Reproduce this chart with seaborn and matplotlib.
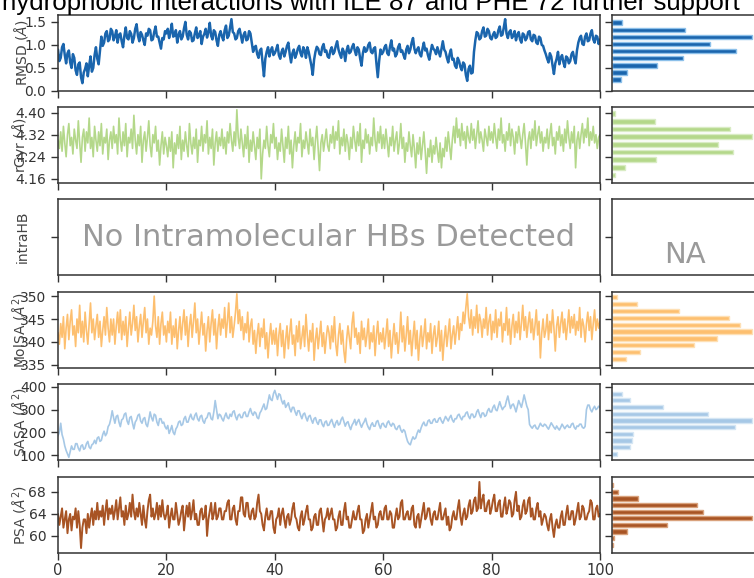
import numpy as np
import matplotlib
matplotlib.use("Agg")
import matplotlib.pyplot as plt
import seaborn as sns

# Ligand properties sampled every 0.25 ns over a 100 ns trajectory

# Ligand RMSD (Å)
rmsd = [
    0.90, 0.65, 0.72, 0.95, 1.02, 0.78, 0.60, 0.82, 0.88, 0.62, 0.50, 0.80, 0.72, 0.45, 0.35, 0.58, 0.62, 0.30, 0.17, 0.40,
    0.48, 0.60, 0.32, 0.55, 0.75, 0.42, 0.50, 0.78, 0.95, 0.70, 0.58, 0.88, 1.18, 0.98, 1.05, 1.25, 1.30, 1.08, 1.12, 1.35,
    1.30, 1.10, 1.18, 1.32, 1.05, 1.22, 1.25, 1.08, 0.95, 1.20, 1.38, 1.15, 1.12, 1.30, 1.24, 1.05, 1.15, 1.35, 1.45, 1.20,
    1.08, 1.28, 1.22, 1.10, 1.00, 1.25, 1.20, 1.35, 1.32, 1.10, 1.12, 1.28, 1.40, 1.18, 1.18, 1.05, 0.92, 1.15, 1.12, 1.30,
    1.25, 1.35, 1.15, 1.28, 1.46, 1.18, 1.20, 1.32, 1.05, 1.22, 1.30, 1.12, 1.18, 1.36, 1.50, 1.22, 1.12, 1.30, 1.26, 1.08,
    1.10, 1.25, 1.38, 1.15, 1.20, 1.30, 1.02, 1.18, 1.24, 1.35, 1.16, 1.28, 1.48, 1.20, 1.12, 1.32, 1.28, 1.10, 0.98, 1.22,
    1.30, 1.18, 1.10, 1.32, 1.42, 1.15, 1.20, 1.38, 1.56, 1.28, 1.25, 1.12, 1.15, 1.30, 1.35, 1.20, 1.05, 1.22, 1.28, 1.10,
    1.12, 1.30, 1.25, 1.05, 0.85, 0.95, 0.98, 0.80, 0.72, 0.88, 0.92, 0.60, 0.32, 0.70, 0.85, 0.95, 0.75, 0.88, 0.95, 0.78,
    0.82, 0.90, 1.00, 0.78, 0.70, 0.85, 0.92, 0.75, 0.85, 0.98, 1.05, 0.80, 0.62, 0.82, 0.90, 0.72, 0.80, 0.92, 0.98, 0.82,
    0.75, 0.95, 0.88, 0.72, 0.95, 0.85, 0.70, 0.55, 0.35, 0.68, 0.85, 0.96, 0.92, 0.80, 0.78, 0.95, 1.02, 0.85, 0.88, 0.75,
    0.72, 0.88, 0.95, 0.80, 0.85, 0.98, 1.08, 0.90, 0.80, 0.72, 0.92, 0.85, 0.65, 0.88, 0.98, 0.82, 0.85, 0.95, 1.02, 0.88,
    0.78, 0.95, 0.90, 0.70, 0.55, 0.82, 0.95, 0.85, 0.88, 1.00, 1.05, 0.85, 0.82, 0.92, 0.95, 0.60, 0.30, 0.65, 0.90, 0.80,
    0.85, 0.95, 1.00, 0.82, 0.78, 0.96, 1.10, 0.88, 0.92, 0.75, 0.80, 0.95, 1.02, 0.85, 0.88, 0.78, 0.70, 0.90, 0.98, 0.82,
    0.90, 1.05, 1.15, 0.92, 0.82, 0.90, 0.95, 0.80, 0.75, 0.92, 1.05, 0.88, 0.92, 0.78, 0.68, 0.85, 1.00, 0.92, 0.88, 0.80,
    0.95, 0.85, 0.75, 0.92, 1.08, 0.90, 0.85, 0.72, 0.62, 0.80, 0.90, 0.68, 0.70, 0.55, 0.50, 0.72, 0.65, 0.52, 0.45, 0.62,
    0.58, 0.35, 0.22, 0.48, 0.55, 0.38, 0.40, 0.85, 1.10, 1.28, 1.25, 1.12, 1.15, 1.30, 1.38, 1.18, 1.20, 1.35, 1.30, 1.15,
    1.12, 1.22, 1.28, 1.15, 1.18, 1.32, 1.40, 1.20, 1.22, 1.38, 1.56, 1.25, 1.15, 1.28, 1.32, 1.15, 1.20, 1.30, 1.10, 1.22,
    1.28, 1.12, 1.05, 1.25, 1.22, 1.10, 1.15, 1.28, 1.30, 1.12, 1.08, 1.22, 1.20, 1.05, 1.02, 1.18, 1.15, 1.00, 0.98, 0.88,
    0.80, 0.70, 0.62, 0.82, 0.75, 0.55, 0.37, 0.60, 0.70, 0.85, 0.58, 0.72, 0.78, 0.62, 0.52, 0.75, 0.72, 0.60, 0.65, 0.80,
    0.85, 0.70, 0.60, 0.88, 1.05, 1.15, 1.20, 1.02, 1.00, 1.18, 1.25, 1.08, 1.10, 1.25, 1.32, 1.12, 1.05, 1.20, 1.18, 1.02,
    1.12,
]

# Radius of gyration (Å)
rgyr = [
    4.30, 4.27, 4.33, 4.26, 4.35, 4.29, 4.24, 4.32, 4.36, 4.28, 4.31, 4.25, 4.34, 4.30, 4.27, 4.37, 4.29, 4.22, 4.31, 4.34,
    4.26, 4.33, 4.29, 4.38, 4.27, 4.31, 4.24, 4.35, 4.30, 4.26, 4.33, 4.28, 4.36, 4.25, 4.31, 4.29, 4.34, 4.23, 4.30, 4.33,
    4.27, 4.35, 4.29, 4.32, 4.25, 4.38, 4.30, 4.26, 4.33, 4.28, 4.36, 4.24, 4.31, 4.29, 4.34, 4.27, 4.39, 4.30, 4.25, 4.32,
    4.28, 4.35, 4.22, 4.30, 4.33, 4.26, 4.31, 4.37, 4.28, 4.24, 4.32, 4.29, 4.35, 4.26, 4.30, 4.21, 4.28, 4.33, 4.25, 4.31,
    4.28, 4.24, 4.31, 4.26, 4.33, 4.20, 4.29, 4.25, 4.32, 4.27, 4.35, 4.23, 4.30, 4.26, 4.33, 4.28, 4.24, 4.36, 4.29, 4.25,
    4.31, 4.27, 4.34, 4.22, 4.30, 4.28, 4.35, 4.26, 4.32, 4.29, 4.37, 4.25, 4.31, 4.27, 4.34, 4.21, 4.29, 4.33, 4.26, 4.31,
    4.28, 4.34, 4.27, 4.31, 4.25, 4.33, 4.29, 4.36, 4.30, 4.26, 4.33, 4.28, 4.41, 4.31, 4.27, 4.34, 4.29, 4.24, 4.32, 4.27,
    4.35, 4.22, 4.30, 4.26, 4.33, 4.28, 4.23, 4.31, 4.27, 4.34, 4.16, 4.25, 4.30, 4.27, 4.35, 4.28, 4.24, 4.32, 4.29, 4.36,
    4.27, 4.31, 4.23, 4.29, 4.26, 4.34, 4.28, 4.22, 4.31, 4.27, 4.35, 4.25, 4.30, 4.20, 4.28, 4.33, 4.26, 4.31, 4.29, 4.36,
    4.24, 4.30, 4.27, 4.33, 4.29, 4.25, 4.34, 4.28, 4.31, 4.23, 4.30, 4.35, 4.27, 4.19, 4.29, 4.32, 4.26, 4.30, 4.34, 4.28,
    4.26, 4.32, 4.29, 4.35, 4.27, 4.33, 4.30, 4.37, 4.25, 4.31, 4.28, 4.34, 4.26, 4.32, 4.29, 4.23, 4.31, 4.27, 4.35, 4.30,
    4.26, 4.33, 4.28, 4.36, 4.22, 4.30, 4.27, 4.34, 4.29, 4.32, 4.25, 4.31, 4.28, 4.38, 4.30, 4.26, 4.33, 4.29, 4.35, 4.27,
    4.32, 4.27, 4.34, 4.29, 4.24, 4.31, 4.28, 4.35, 4.26, 4.30, 4.33, 4.25, 4.29, 4.36, 4.27, 4.31, 4.22, 4.29, 4.26, 4.33,
    4.28, 4.24, 4.32, 4.27, 4.20, 4.29, 4.25, 4.31, 4.23, 4.28, 4.33, 4.26, 4.18, 4.27, 4.24, 4.30, 4.22, 4.28, 4.25, 4.31,
    4.26, 4.22, 4.29, 4.20, 4.27, 4.24, 4.31, 4.26, 4.33, 4.28, 4.23, 4.30, 4.35, 4.29, 4.38, 4.31, 4.34, 4.28, 4.36, 4.30,
    4.33, 4.27, 4.35, 4.31, 4.29, 4.36, 4.30, 4.34, 4.27, 4.32, 4.37, 4.29, 4.33, 4.30, 4.26, 4.34, 4.31, 4.28, 4.35, 4.30,
    4.33, 4.29, 4.36, 4.31, 4.27, 4.34, 4.30, 4.38, 4.29, 4.32, 4.26, 4.33, 4.30, 4.36, 4.28, 4.34, 4.31, 4.25, 4.33, 4.29,
    4.35, 4.31, 4.27, 4.32, 4.36, 4.29, 4.21, 4.30, 4.33, 4.27, 4.34, 4.30, 4.37, 4.28, 4.32, 4.35, 4.29, 4.33, 4.26, 4.31,
    4.29, 4.34, 4.27, 4.32, 4.36, 4.28, 4.31, 4.25, 4.33, 4.30, 4.35, 4.28, 4.32, 4.26, 4.34, 4.29, 4.37, 4.31, 4.27, 4.33,
    4.29, 4.35, 4.20, 4.30, 4.33, 4.27, 4.32, 4.36, 4.29, 4.34, 4.31, 4.38, 4.28, 4.33, 4.30, 4.35, 4.29, 4.32, 4.27, 4.31,
    4.32,
]

# Molecular surface area (Å²)
molsa = [
    342.0, 339.5, 344.0, 341.0, 345.5, 338.5, 343.0, 346.0, 340.5, 344.5, 347.0, 341.5, 343.5, 339.0, 345.0, 342.0, 348.0, 341.0, 344.5, 340.0,
    346.5, 342.5, 339.5, 344.0, 348.5, 342.0, 345.0, 340.5, 343.5, 346.0, 341.0, 344.5, 339.0, 342.5, 345.5, 341.5, 347.5, 343.0, 340.0, 345.0,
    341.5, 345.0, 339.5, 343.5, 346.5, 342.0, 347.0, 340.5, 344.5, 341.5, 345.5, 339.0, 343.0, 346.5, 341.5, 344.0, 348.0, 342.5, 345.5, 340.0,
    343.5, 346.0, 341.0, 344.5, 347.5, 342.0, 345.0, 339.5, 343.0, 341.5, 344.5, 350.0, 343.5, 341.0, 345.5, 339.5, 344.0, 346.5, 341.5, 343.5,
    340.0, 344.5, 342.0, 346.5, 339.5, 343.5, 341.0, 345.0, 338.5, 342.5, 345.5, 340.5, 344.0, 347.0, 341.5, 345.5, 339.0, 343.5, 346.0, 341.0,
    344.5, 348.5, 342.0, 345.0, 339.5, 343.0, 346.5, 341.5, 344.0, 338.0, 342.5, 345.5, 340.0, 344.0, 347.0, 341.5, 345.0, 338.5, 343.0, 346.0,
    341.5, 345.0, 343.0, 347.5, 341.0, 344.5, 348.5, 342.0, 345.5, 341.0, 343.5, 346.5, 350.5, 344.0, 347.0, 342.5, 345.5, 340.5, 344.0, 342.0,
    346.5, 340.0, 343.5, 345.0, 339.5, 342.5, 337.5, 341.5, 344.0, 339.0, 343.0, 341.0, 345.0, 338.5, 342.0, 336.5, 341.0, 344.0, 339.5, 342.5,
    339.5, 343.0, 337.0, 341.5, 344.0, 339.0, 342.5, 336.5, 340.5, 343.5, 338.5, 342.0, 345.0, 339.5, 341.5, 337.0, 343.5, 340.0, 344.5, 338.5,
    341.0, 343.5, 339.0, 346.0, 341.5, 338.0, 342.5, 340.0, 344.0, 336.0, 340.5, 343.0, 338.5, 341.5, 344.5, 339.0, 342.0, 337.5, 341.0, 343.5,
    342.0, 338.5, 343.5, 340.0, 345.5, 339.5, 337.0, 341.5, 344.0, 339.5, 342.5, 338.0, 335.5, 340.5, 343.5, 341.0, 338.5, 344.0, 346.5, 341.0,
    343.0, 339.5, 342.0, 337.5, 344.5, 340.5, 343.0, 339.0, 341.5, 345.0, 338.5, 342.0, 340.0, 343.5, 337.0, 341.5, 344.5, 339.5, 342.0, 340.0,
    343.0, 338.5, 341.5, 345.0, 339.0, 342.5, 336.5, 340.5, 344.0, 339.5, 342.0, 337.5, 341.0, 346.5, 340.0, 343.5, 338.0, 341.5, 345.5, 339.5,
    342.5, 337.0, 341.0, 344.5, 338.5, 342.5, 336.0, 340.5, 343.5, 339.0, 341.5, 345.0, 338.5, 342.0, 340.0, 344.0, 337.5, 341.5, 343.5, 339.0,
    341.0, 344.5, 338.0, 342.5, 336.0, 340.5, 343.5, 339.0, 342.0, 345.0, 338.5, 341.5, 343.5, 339.5, 342.5, 345.5, 340.5, 344.0, 342.5, 346.5,
    344.0, 347.5, 350.5, 345.5, 343.0, 347.0, 341.5, 345.5, 343.0, 348.0, 342.0, 346.0, 344.5, 341.0, 345.0, 343.0, 347.5, 341.5, 344.5, 346.0,
    340.5, 344.5, 342.0, 347.0, 341.0, 345.0, 343.5, 346.5, 340.0, 344.0, 342.5, 347.5, 341.5, 345.0, 339.5, 343.5, 346.0, 341.0, 344.5, 342.0,
    346.5, 340.5, 344.0, 348.0, 342.5, 345.5, 341.0, 344.0, 346.5, 342.0, 345.0, 340.5, 343.5, 347.0, 341.5, 344.5, 336.5, 342.0, 345.0, 341.0,
    342.5, 346.0, 340.5, 344.5, 342.0, 347.0, 343.0, 338.0, 343.5, 345.5, 341.0, 344.0, 346.5, 342.0, 345.0, 340.5, 343.5, 347.0, 342.0, 345.5,
    343.0, 346.0, 341.5, 344.5, 342.5, 347.5, 341.0, 345.0, 343.5, 340.0, 344.0, 346.5, 342.5, 345.5, 340.5, 344.0, 347.0, 342.5, 345.0, 343.0,
    344.5,
]

# Solvent accessible surface area (Å²)
sasa = [
    185, 200, 240, 190, 170, 140, 120, 105, 90, 115, 140, 125, 125, 150, 150, 130, 118, 140, 145, 125,
    130, 150, 160, 135, 128, 145, 150, 165, 150, 175, 180, 160, 165, 190, 205, 185, 195, 225, 235, 260,
    295, 265, 240, 270, 275, 245, 225, 255, 260, 280, 285, 250, 235, 265, 270, 240, 215, 245, 255, 275,
    280, 250, 240, 260, 265, 235, 225, 255, 290, 265, 250, 280, 275, 245, 230, 260, 260, 240, 245, 225,
    215, 230, 195, 210, 230, 200, 190, 215, 225, 245, 250, 230, 235, 260, 270, 245, 245, 265, 280, 260,
    255, 275, 285, 260, 250, 270, 275, 250, 240, 260, 265, 285, 285, 260, 255, 290, 340, 300, 260, 280,
    275, 260, 250, 270, 285, 265, 260, 280, 270, 290, 295, 270, 255, 275, 280, 265, 265, 285, 290, 270,
    270, 290, 305, 285, 275, 290, 285, 265, 260, 285, 295, 310, 325, 300, 305, 335, 365, 345, 340, 370,
    385, 365, 345, 370, 365, 340, 325, 340, 310, 320, 330, 305, 290, 310, 310, 290, 275, 295, 295, 275,
    260, 280, 285, 265, 250, 270, 275, 255, 240, 260, 265, 245, 235, 255, 255, 235, 225, 245, 250, 230,
    232, 247, 257, 237, 222, 242, 252, 232, 237, 257, 267, 247, 227, 242, 247, 227, 212, 232, 242, 257,
    232, 247, 257, 237, 222, 237, 247, 262, 237, 222, 212, 232, 242, 227, 227, 247, 252, 232, 217, 237,
    240, 227, 222, 242, 250, 235, 227, 240, 235, 217, 212, 225, 230, 210, 200, 212, 205, 180, 160, 150,
    145, 165, 180, 170, 175, 195, 210, 200, 220, 235, 245, 230, 230, 250, 255, 240, 240, 255, 260, 245,
    245, 260, 265, 250, 240, 255, 270, 260, 250, 265, 275, 255, 245, 260, 260, 275, 280, 265, 255, 270,
    270, 285, 290, 270, 260, 280, 280, 265, 270, 290, 300, 280, 265, 285, 285, 270, 275, 295, 305, 290,
    290, 310, 320, 300, 295, 315, 335, 315, 300, 310, 315, 340, 360, 330, 305, 320, 325, 310, 290, 315,
    340, 325, 310, 335, 365, 340, 315, 300, 235, 225, 218, 228, 232, 218, 214, 226, 240, 230, 226, 236,
    232, 222, 214, 228, 242, 232, 222, 214, 228, 218, 210, 222, 236, 226, 216, 226, 232, 222, 222, 236,
    240, 222, 214, 228, 226, 236, 236, 222, 218, 226, 300, 320, 320, 300, 290, 305, 315, 300, 305, 315,
    310,
]

# Polar surface area (Å²)
psa = [
    64.0, 62.0, 63.5, 65.0, 61.5, 63.0, 64.5, 60.5, 63.0, 64.0, 61.0, 63.5, 63.0, 65.0, 61.5, 64.5, 62.0, 57.8, 61.5, 63.0,
    63.0, 60.5, 64.0, 61.5, 63.5, 65.0, 62.0, 64.5, 63.0, 66.0, 63.0, 64.5, 63.5, 65.5, 62.0, 64.5, 66.5, 63.0, 65.0, 64.0,
    65.5, 63.0, 64.5, 66.5, 63.0, 65.0, 67.0, 63.5, 64.5, 62.0, 65.5, 63.0, 64.0, 66.0, 63.5, 67.5, 64.5, 63.0, 65.0, 63.5,
    66.0, 64.0, 62.0, 65.5, 63.0, 61.5, 64.5, 66.5, 67.5, 63.5, 65.0, 63.0, 64.0, 66.0, 63.0, 65.5, 63.5, 66.5, 64.0, 63.0,
    64.0, 65.5, 61.5, 63.5, 65.0, 63.0, 63.0, 66.0, 64.0, 62.0, 63.0, 64.5, 65.5, 61.0, 63.5, 65.5, 63.5, 66.0, 63.0, 64.5,
    66.5, 63.0, 64.0, 62.0, 62.0, 64.5, 65.0, 63.0, 63.5, 65.5, 60.0, 63.0, 64.5, 66.0, 63.0, 64.0, 66.0, 63.0, 63.5, 65.0,
    65.0, 63.0, 63.0, 64.5, 64.5, 66.0, 66.5, 63.0, 63.0, 65.0, 65.5, 63.0, 62.0, 64.5, 64.5, 67.0, 67.0, 64.0, 63.5, 66.0,
    66.0, 63.5, 63.0, 64.5, 65.0, 63.0, 63.5, 66.0, 67.5, 64.5, 64.0, 62.0, 61.0, 63.5, 65.0, 63.0, 63.0, 64.5, 64.5, 61.5,
    60.5, 63.0, 63.5, 65.0, 62.0, 64.0, 65.0, 63.0, 61.5, 63.5, 64.0, 62.0, 63.0, 65.0, 66.0, 63.5, 63.0, 61.5, 61.0, 63.5,
    64.5, 62.0, 63.0, 64.5, 65.5, 63.0, 63.0, 61.0, 61.5, 63.5, 64.0, 62.0, 62.0, 64.5, 65.0, 63.0, 60.8, 63.0, 63.5, 65.0,
    63.0, 64.0, 65.0, 63.0, 63.0, 61.0, 61.5, 63.5, 64.5, 62.0, 62.0, 64.5, 66.0, 63.0, 63.5, 61.5, 61.5, 63.0, 64.5, 63.0,
    63.0, 64.5, 65.5, 63.0, 63.0, 60.5, 61.0, 63.0, 64.0, 61.5, 63.0, 64.5, 66.0, 63.0, 63.5, 61.5, 62.0, 64.0, 64.5, 63.0,
    63.0, 65.0, 65.5, 63.0, 63.0, 64.5, 64.0, 61.5, 61.5, 63.5, 65.0, 63.0, 63.5, 66.0, 66.5, 63.0, 63.0, 64.0, 64.5, 63.0,
    63.0, 65.0, 65.5, 62.0, 61.5, 63.5, 64.0, 61.5, 63.0, 64.5, 66.0, 63.0, 63.5, 65.0, 65.0, 63.0, 62.0, 64.0, 64.5, 63.0,
    63.0, 64.5, 66.0, 63.0, 63.0, 64.0, 65.0, 62.0, 63.5, 61.0, 61.5, 63.5, 64.5, 63.0, 63.0, 65.0, 66.5, 63.5, 62.0, 64.0,
    65.0, 63.0, 63.5, 65.5, 66.5, 64.0, 64.5, 66.5, 67.0, 64.5, 65.0, 69.8, 65.0, 66.5, 67.5, 64.5, 64.5, 66.0, 66.5, 64.0,
    65.0, 66.5, 67.5, 64.5, 64.5, 66.0, 66.5, 63.5, 63.5, 65.5, 67.0, 64.0, 65.0, 66.5, 66.0, 63.5, 64.0, 66.5, 68.0, 64.5,
    65.5, 63.0, 63.5, 65.5, 66.5, 64.0, 64.5, 66.5, 67.0, 63.5, 65.0, 63.0, 63.0, 65.0, 66.0, 63.5, 64.5, 62.0, 63.0, 64.0,
    63.5, 62.0, 61.0, 63.0, 64.0, 61.5, 59.8, 62.0, 63.0, 61.5, 61.5, 63.5, 64.5, 62.0, 62.0, 64.0, 65.5, 63.0, 63.0, 64.5,
    64.5, 62.0, 63.0, 64.5, 66.0, 63.0, 63.5, 65.5, 65.0, 63.0, 63.0, 64.0, 64.5, 66.5, 66.0, 63.0, 63.0, 65.0, 65.5, 63.5,
    64.0,
]

x_ticks = [0, 20, 40, 60, 80, 100]
caption = "hydrophobic interactions with ILE 87 and PHE 72 further support"

panels = [
    dict(values=rmsd, label=r"RMSD ($\AA$)", color="#1a65ad", edge="#8cc0ea", lw=1.8,
         ylim=(0.0, 1.65), yticks=[0.0, 0.5, 1.0, 1.5], fmt="{:.1f}", bins=9),
    dict(values=rgyr, label=r"rGyr ($\AA$)", color="#b4d88a", edge="#d9ecc4", lw=1.2,
         ylim=(4.145, 4.42), yticks=[4.16, 4.24, 4.32, 4.40], fmt="{:.2f}", bins=9),
    dict(values=None, label="intraHB", ylim=(0, 1), yticks=[0.5]),
    dict(values=molsa, label=r"MolSA ($\AA^2$)", color="#fdbf6f", edge="#fee0b5", lw=1.2,
         ylim=(334.3, 350.9), yticks=[335, 340, 345, 350], fmt="{:.0f}", bins=10),
    dict(values=sasa, label=r"SASA ($\AA^2$)", color="#a6c8e6", edge="#d5e6f4", lw=1.2,
         ylim=(78, 413), yticks=[100, 200, 300, 400], fmt="{:.0f}", bins=10),
    dict(values=psa, label=r"PSA ($\AA^2$)", color="#a85424", edge="#d9a27c", lw=1.4,
         ylim=(56.9, 70.7), yticks=[60, 64, 68], fmt="{:.0f}", bins=10),
]

sns.set_style("ticks")
plt.rcParams["font.family"] = ["DejaVu Sans"]
plt.rcParams["axes.edgecolor"] = "#333333"
plt.rcParams["axes.linewidth"] = 1.1
plt.rcParams["xtick.color"] = "#333333"
plt.rcParams["ytick.color"] = "#333333"

W, H = 754, 578
fig = plt.figure(figsize=(W / 100, H / 100), dpi=100)


def add_px_axes(x0, x1, y0, y1):
    return fig.add_axes([x0 / W, 1 - y1 / H, (x1 - x0) / W, (y1 - y0) / H])


row_px = [(15, 91), (107, 183), (199, 275), (292, 368), (384, 460), (477, 553)]
left_x = (58, 600)
hist_x = (612, 800)

for i, ((top, bottom), p) in enumerate(zip(row_px, panels)):
    ax = add_px_axes(left_x[0], left_x[1], top, bottom)
    axh = add_px_axes(hist_x[0], hist_x[1], top, bottom)

    if p["values"] is not None:
        time_ns = np.linspace(0, 100, len(p["values"]))
        sns.lineplot(x=time_ns, y=p["values"], ax=ax, color=p["color"],
                     linewidth=p["lw"], estimator=None)
        sns.histplot(y=p["values"], bins=p["bins"], ax=axh, color=p["color"],
                     edgecolor=p["edge"], linewidth=1.0, shrink=0.62, alpha=1.0)
        widest = max(b.get_width() for b in axh.patches)
        axh.set_xlim(0, widest * (hist_x[1] - hist_x[0]) / 140)
        ax.set_yticks(p["yticks"])
        ax.set_yticklabels([p["fmt"].format(v) for v in p["yticks"]])
    else:
        ax.set_yticks(p["yticks"])
        ax.set_yticklabels([])
        ax.text(0.5, 0.5, "No Intramolecular HBs Detected", transform=ax.transAxes,
                ha="center", va="center", fontsize=22, color="#9a9a9a")
        axh.text(0.39, 0.26, "NA", transform=axh.transAxes,
                 ha="center", va="center", fontsize=21, color="#9a9a9a")

    ax.set_ylim(*p["ylim"])
    ax.set_xlim(0, 100)
    ax.set_xticks(x_ticks)
    ax.set_xlabel("")
    ax.set_ylabel(p["label"], fontsize=10, color="#444444")
    ax.yaxis.set_label_coords(-0.052, 0.5)
    ax.tick_params(axis="both", direction="out", length=5, width=1, labelsize=10)
    ax.tick_params(axis="x", labelsize=10.5, pad=2, labelbottom=(i == len(panels) - 1))

    axh.set_ylim(*p["ylim"])
    axh.set_yticks(p["yticks"])
    axh.set_yticklabels([])
    axh.set_xticks([])
    axh.set_xlabel("")
    axh.set_ylabel("")
    axh.tick_params(axis="y", direction="out", length=5, width=1)

fig.text(2 / W, 1 - 10 / H, caption, ha="left", va="baseline", fontsize=18.6,
         family=["Liberation Sans", "DejaVu Sans"], color="black")

fig.savefig("out.png", dpi=100)
